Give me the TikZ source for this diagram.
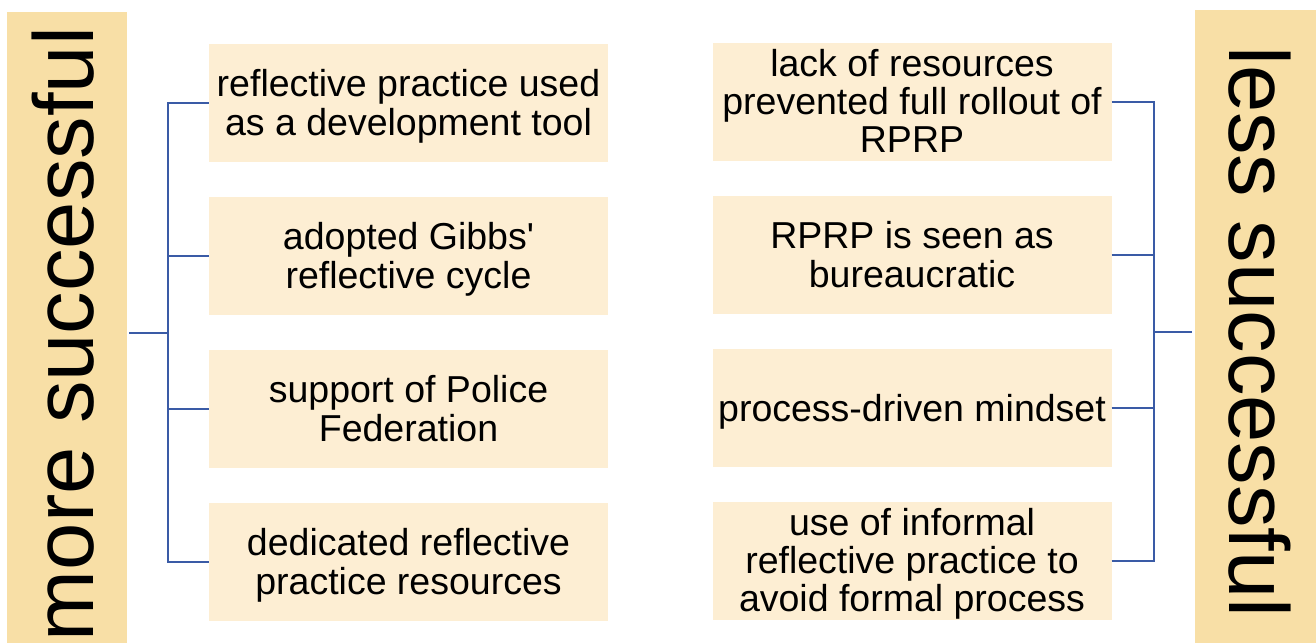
\documentclass[tikz,border=0pt]{standalone}
\usepackage{fontspec}
\setmainfont{Liberation Sans}[Ligatures=TeXOff]
\definecolor{barfill}{HTML}{F8DFA6}
\definecolor{boxfill}{HTML}{FDEED3}
\definecolor{linecol}{HTML}{3A5BA6}
\begin{document}
\begin{tikzpicture}[x=1pt,y=-1pt,
  bar/.style={fill=barfill,draw=none},
  item/.style={fill=boxfill,draw=none,minimum width=399pt,minimum height=118pt,inner sep=0pt},
  txt/.style={align=center,inner sep=0pt,font=\fontsize{37.5}{39}\selectfont,yshift=-5.4pt,
    execute at begin node=\strut,execute at end node=\strut},
  txtthree/.style={align=center,inner sep=0pt,font=\fontsize{37.5}{38}\selectfont,yshift=-4.5pt,
    execute at begin node=\strut,execute at end node=\strut},
  big/.style={inner sep=0pt,font=\fontsize{85}{90}\selectfont},
  conn/.style={draw=linecol,line width=2.8pt}]
\useasboundingbox (0,0) rectangle (1316,643);
\fill[bar] (7,12) rectangle (127,643);
\fill[bar] (1195,10) rectangle (1316,643);
\node[big,rotate=90,anchor=base] (L) at (93,334) {more successful};
\node[big,rotate=-90,anchor=base] (R) at (1229,332) {less successful};

\node[item] (a1) at (408.5,103) {};
\node[item] (a2) at (408.5,256) {};
\node[item] (a3) at (408.5,409) {};
\node[item] (a4) at (408.5,562) {};
\node[item] (b1) at (912,102) {};
\node[item] (b2) at (912,255) {};
\node[item] (b3) at (912,408) {};
\node[item] (b4) at (912,561) {};

\node[txt] (ta1) at (a1) {reflective practice used\\as a development tool};
\node[txt] (ta2) at (a2) {adopted Gibbs'\\reflective cycle};
\node[txt] (ta3) at (a3) {support of Police\\Federation};
\node[txt] (ta4) at (a4) {dedicated reflective\\practice resources};
\node[txtthree] (tb1) at (b1) {lack of resources\\prevented full rollout of\\RPRP};
\node[txt] (tb2) at (b2) {RPRP is seen as\\bureaucratic};
\node[txt] (tb3) at (b3) {process-driven mindset};
\node[txtthree] (tb4) at (b4) {use of informal\\reflective practice to\\avoid formal process};

\coordinate (lj) at (129,333);
\coordinate (lv) at (168,333);
\draw[conn] (lj) -- (lv);
\draw[conn] (a1.west) -| (lv);
\draw[conn] (a4.west) -| (lv);
\draw[conn] (a2.west) -- (a2.west -| lv);
\draw[conn] (a3.west) -- (a3.west -| lv);

\coordinate (rj) at (1192,332);
\coordinate (rv) at (1154,332);
\draw[conn] (rj) -- (rv);
\draw[conn] (b1.east) -| (rv);
\draw[conn] (b4.east) -| (rv);
\draw[conn] (b2.east) -- (b2.east -| rv);
\draw[conn] (b3.east) -- (b3.east -| rv);
\end{tikzpicture}
\end{document}
